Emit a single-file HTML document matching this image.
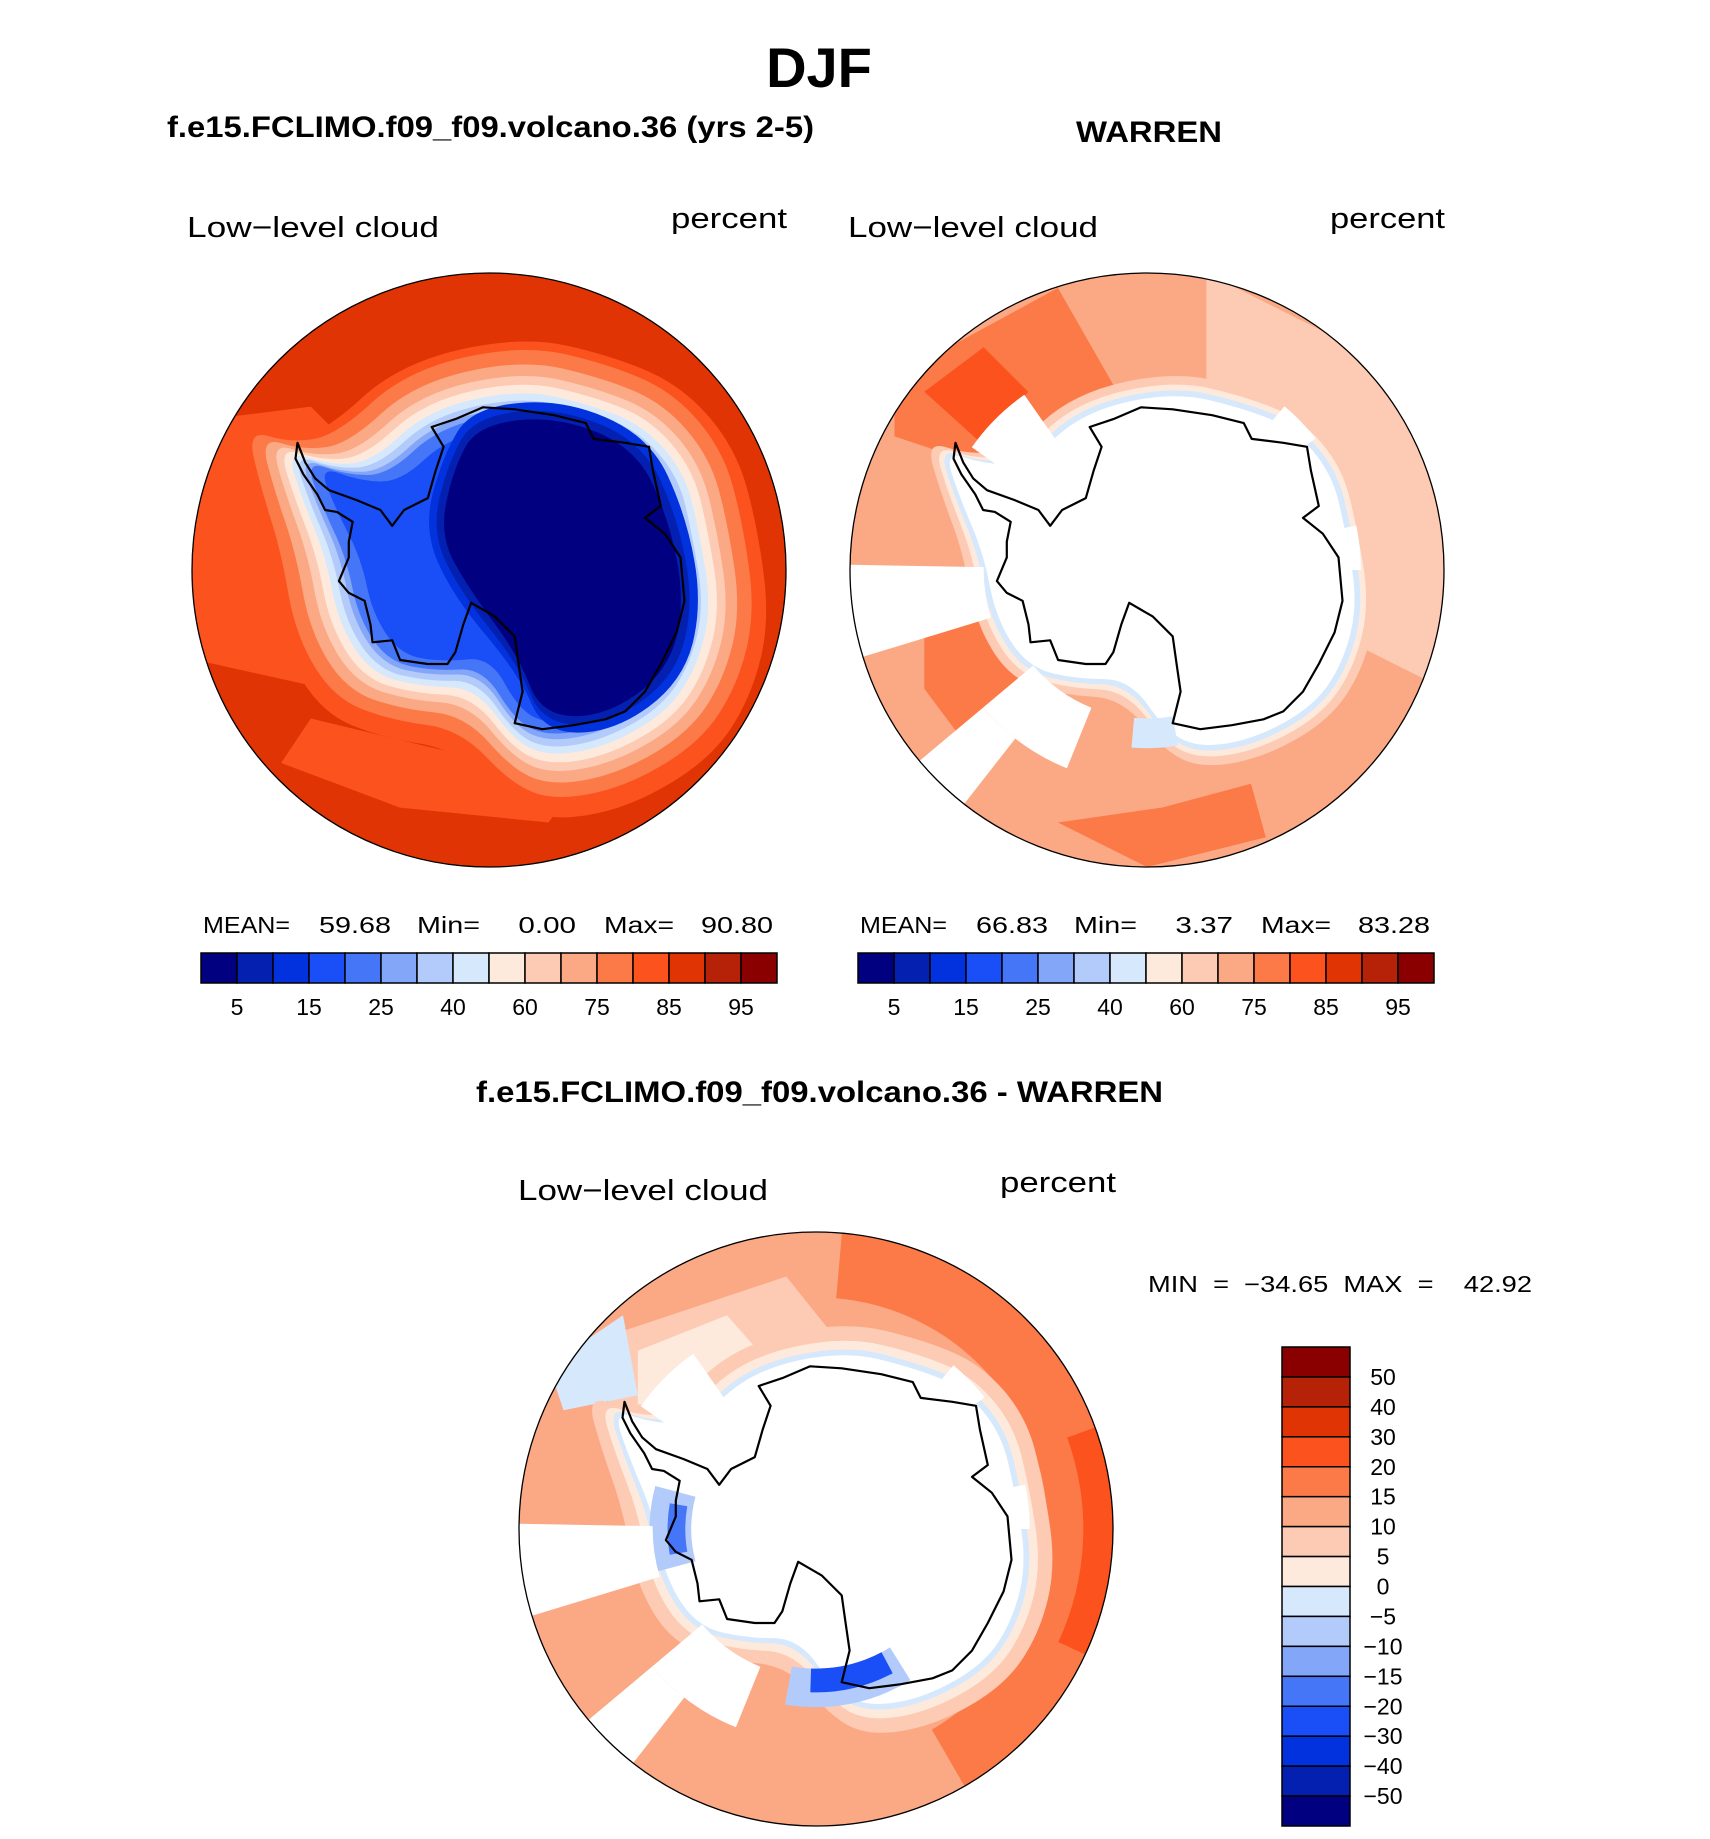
<!DOCTYPE html>
<html><head><meta charset="utf-8">
<style>
html,body{margin:0;padding:0;background:#fff;}
svg{display:block;}
text{font-family:"Liberation Sans",Arial,sans-serif;fill:#000;white-space:pre;}
.b{font-weight:bold;}
</style></head>
<body>
<svg id="fig" width="1710" height="1839" viewBox="0 0 1710 1839" xmlns="http://www.w3.org/2000/svg">
<defs>
<clipPath id="cL"><circle cx="489" cy="570" r="297"/></clipPath>
<clipPath id="cR"><circle cx="1147" cy="570" r="297"/></clipPath>
<clipPath id="cB"><circle cx="816" cy="1529" r="297"/></clipPath>
</defs>
<text x="819" y="87" font-size="56" class="b" text-anchor="middle">DJF</text>
<text x="167" y="137" font-size="30" class="b" textLength="647" lengthAdjust="spacingAndGlyphs">f.e15.FCLIMO.f09_f09.volcano.36 (yrs 2-5)</text>
<text x="1076" y="142" font-size="30" class="b" textLength="146" lengthAdjust="spacingAndGlyphs">WARREN</text>
<text x="187" y="237" font-size="29" textLength="252" lengthAdjust="spacingAndGlyphs">Low−level cloud</text>
<text x="671" y="228" font-size="29" textLength="116" lengthAdjust="spacingAndGlyphs">percent</text>
<text x="848" y="237" font-size="29" textLength="250" lengthAdjust="spacingAndGlyphs">Low−level cloud</text>
<text x="1330" y="228" font-size="29" textLength="115" lengthAdjust="spacingAndGlyphs">percent</text>
<text x="476" y="1102" font-size="30" class="b" textLength="687" lengthAdjust="spacingAndGlyphs">f.e15.FCLIMO.f09_f09.volcano.36 - WARREN</text>
<text x="518" y="1200" font-size="29" textLength="250" lengthAdjust="spacingAndGlyphs">Low−level cloud</text>
<text x="1000" y="1192" font-size="29" textLength="116" lengthAdjust="spacingAndGlyphs">percent</text>
<text x="1148" y="1292" font-size="23" textLength="384" lengthAdjust="spacingAndGlyphs">MIN  =  −34.65  MAX  =    42.92</text>
<g id="mapL" clip-path="url(#cL)"></g>
<g id="mapR" clip-path="url(#cR)"></g>
<g id="mapB" clip-path="url(#cB)"></g>
<circle cx="489" cy="570" r="297" fill="none" stroke="#000" stroke-width="1.3"/>
<circle cx="1147" cy="570" r="297" fill="none" stroke="#000" stroke-width="1.3"/>
<circle cx="816" cy="1529" r="297" fill="none" stroke="#000" stroke-width="1.3"/>
<g id="statsL"></g>
<g id="statsR"></g>
<g id="cbL"></g>
<g id="cbR"></g>
<g id="cbB"></g>
</svg>
<script>
const absColors = ["#000080","#0320b0","#0232dd","#1a4ff7","#4676f8","#83a6f9","#b3cbfa","#d6e8fc","#feeadc","#fdcab3","#fba985","#fb7a48","#fb521e","#e03404","#b52207","#8a0000"];
const absTickLabels = ["5","15","25","40","60","75","85","95"];
const diffTickLabels = ["50","40","30","20","15","10","5","0","−5","−10","−15","−20","−30","−40","−50"];
const leftStats = ["59.68","0.00","90.80"];
const rightStats = ["66.83","3.37","83.28"];

const coast = [[640,430],[700,410],[770,380],[850,385],[950,400],[1030,420],[1050,460],[1130,470],[1190,480],[1200,540],[1220,630],[1180,660],[1230,700],[1270,760],[1280,870],[1260,950],[1220,1030],[1180,1100],[1130,1150],[1080,1170],[1000,1185],[920,1195],[850,1180],[870,1100],[860,1030],[850,960],[800,910],[740,875],[720,930],[700,1000],[680,1030],[630,1030],[560,1020],[540,970],[490,975],[485,930],[470,870],[430,850],[405,820],[430,760],[430,720],[440,670],[400,645],[370,640],[350,600],[315,550],[295,510],[300,470],[320,520],[345,560],[380,590],[450,615],[510,640],[540,680],[570,640],[630,610],[650,540],[670,480]].map(p=>[(p[0]-785)/752,(p[1]-792)/752]);
const blob = [[-0.19,-0.49],[0.09,-0.55],[0.3,-0.5],[0.46,-0.44],[0.58,-0.3],[0.62,-0.12],[0.66,0.1],[0.62,0.28],[0.53,0.42],[0.35,0.52],[0.18,0.55],[0.07,0.5],[-0.04,0.32],[-0.2,0.33],[-0.36,0.3],[-0.46,0.15],[-0.5,-0.05],[-0.58,-0.22],[-0.64,-0.38],[-0.5,-0.33],[-0.36,-0.33]];
const core = [[-0.05,-0.45],[0.2,-0.48],[0.45,-0.38],[0.55,-0.15],[0.6,0.1],[0.55,0.32],[0.35,0.46],[0.15,0.45],[0.08,0.25],[-0.05,0.05],[-0.15,-0.1],[-0.12,-0.3]];
const NS="http://www.w3.org/2000/svg";
function mk(tag,attrs,parent){const e=document.createElementNS(NS,tag);for(const k in attrs)e.setAttribute(k,attrs[k]);parent.appendChild(e);return e;}
function coastPath(cx,cy,R){return "M"+coast.map(p=>[(cx+R*p[0]).toFixed(1),(cy+R*p[1]).toFixed(1)].join(",")).join("L")+"Z";}
function smooth(pts){let s="";const n=pts.length;
  for(let i=0;i<n;i++){const a=pts[i],b=pts[(i+1)%n];const m=[(a[0]+b[0])/2,(a[1]+b[1])/2];
    if(i===0){const z=pts[n-1];s+=`M${((z[0]+a[0])/2).toFixed(1)},${((z[1]+a[1])/2).toFixed(1)}`;}
    s+=`Q${a[0].toFixed(1)},${a[1].toFixed(1)} ${m[0].toFixed(1)},${m[1].toFixed(1)}`;}
  return s+"Z";}
function band(cx,cy,R,d,ox,oy,shape){
  const c=[0.08,0.0];const src=shape||blob;
  const pts=src.map(p=>{const vx=p[0]-c[0],vy=p[1]-c[1],L=Math.hypot(vx,vy);return [cx+R*(p[0]+vx/L*d+(ox||0)),cy+R*(p[1]+vy/L*d+(oy||0))];});
  return smooth(pts);
}
function sector(cx,cy,R,r0,r1,a0,a1){
  const P=(r,a)=>[(cx+R*r*Math.cos(a*Math.PI/180)).toFixed(1),(cy+R*r*Math.sin(a*Math.PI/180)).toFixed(1)];
  const A=P(r1,a0),B=P(r1,a1),C=P(r0,a1),D=P(r0,a0);
  return `M${A}A${R*r1},${R*r1} 0 0 1 ${B}L${C}A${R*r0},${R*r0} 0 0 0 ${D}Z`;
}
function layer(g,d,fill,name){const p=mk("path",{d:d,fill:fill},g);return p;}
function poly(cx,cy,R,pts){return "M"+pts.map(p=>[(cx+R*p[0]).toFixed(1),(cy+R*p[1]).toFixed(1)].join(",")).join("L")+"Z";}
function coastline(g,cx,cy,R){const p=mk("path",{d:coastPath(cx,cy,R),fill:"none",stroke:"#000","stroke-width":2.2,"stroke-linejoin":"round"},g);}
const C=absColors;
const wedges=[[163,181,0.55,1.0],[128,140,0.72,1.0],[112,140,0.5,0.72],[-12,0,0.55,0.72],[-50,-38,0.5,0.72],[20,35,0.5,0.68],[-145,-125,0.5,0.72]];
// Left map
(function(){const g=document.getElementById("mapL"),cx=489,cy=570,R=297;
 layer(g,`M${cx-R},${cy-R}h${2*R}v${2*R}h${-2*R}Z`,C[13],'field-85-90');
 layer(g,poly(cx,cy,R,[[-1,-0.5],[-0.6,-0.55],[-0.4,-0.35],[-0.3,0.3],[-0.55,0.4],[-1,0.3]]),C[12],'field-80-85-west');
 layer(g,poly(cx,cy,R,[[-0.6,0.5],[-0.1,0.62],[0.3,0.72],[0.2,0.85],[-0.3,0.8],[-0.7,0.65]]),C[12],'field-80-85-south');
 layer(g,band(cx,cy,R,0.27,0.02,0.03),C[12],'field-80-85-ring');
 const ds=[0.22,0.17,0.13,0.1,0.07,0.045,0.02];
 const cs=[C[11],C[10],C[9],C[8],C[7],C[6],C[5]];
 ds.forEach((d,i)=>layer(g,band(cx,cy,R,d,0.02,0.01),cs[i],'field-band-'+i));
 layer(g,band(cx,cy,R,0.0,0.02,0.01),C[4],'field-20-25');
 layer(g,band(cx,cy,R,-0.04,0.03,0.01),C[3],'field-15-20');
 layer(g,band(cx,cy,R,0.1,0.02,0,core),C[2],'field-10-15');
 layer(g,band(cx,cy,R,0.07,0.02,0,core),C[1],'field-5-10');
 layer(g,band(cx,cy,R,0.04,0.02,0,core),C[0],'field-0-5');
 coastline(g,cx,cy,R);})();
// Right map
(function(){const g=document.getElementById("mapR"),cx=1147,cy=570,R=297;
 layer(g,`M${cx-R},${cy-R}h${2*R}v${2*R}h${-2*R}Z`,C[10],'field-70-75');
 layer(g,poly(cx,cy,R,[[0.2,-1],[1,-0.6],[1,0.4],[0.7,0.25],[0.55,-0.3],[0.2,-0.6]]),C[9],'field-65-70-east');
 layer(g,poly(cx,cy,R,[[-0.85,-0.65],[-0.3,-0.95],[-0.1,-0.6],[-0.3,-0.45],[-0.55,-0.35],[-0.85,-0.45]]),C[11],'field-75-80');
 layer(g,poly(cx,cy,R,[[-0.75,-0.6],[-0.55,-0.75],[-0.4,-0.6],[-0.55,-0.42]]),C[12],'field-80-85');
 layer(g,poly(cx,cy,R,[[-0.75,0.05],[-0.35,0.1],[-0.3,0.4],[-0.6,0.6],[-0.75,0.4]]),C[11],'field-75-80-w');
 layer(g,poly(cx,cy,R,[[-0.3,0.85],[0.05,0.8],[0.35,0.72],[0.4,0.9],[0,1]]),C[11],'field-75-80-s');
 layer(g,band(cx,cy,R,0.12),C[9],'field-60-65');
 layer(g,band(cx,cy,R,0.09),C[8],'field-40-60');
 layer(g,band(cx,cy,R,0.07),C[7],'field-blue');
 layer(g,band(cx,cy,R,0.05),"#fff",'no-data-ice');
 wedges.forEach((s,i)=>layer(g,sector(cx,cy,R,s[2],s[3],s[0],s[1]),"#fff",'no-data-wedge-'+i));
 layer(g,sector(cx,cy,R,0.5,0.6,80,95),C[7],'field-blue-ross');
 coastline(g,cx,cy,R);})();
// Diff map
(function(){const g=document.getElementById("mapB"),cx=816,cy=1529,R=297;
 layer(g,`M${cx-R},${cy-R}h${2*R}v${2*R}h${-2*R}Z`,C[10],'field-10-15');
 layer(g,sector(cx,cy,R,0.78,1.0,-85,60),C[11],'field-15-20-ring');
 layer(g,sector(cx,cy,R,0.9,1.0,-20,25),C[12],'field-20-30');
 layer(g,poly(cx,cy,R,[[-0.7,-0.65],[-0.1,-0.85],[0.1,-0.6],[-0.3,-0.35],[-0.7,-0.35]]),C[9],'field-5-10-n');
 layer(g,poly(cx,cy,R,[[-0.6,-0.6],[-0.3,-0.72],[-0.15,-0.55],[-0.35,-0.4],[-0.6,-0.42]]),C[8],'field-0-5');
 layer(g,poly(cx,cy,R,[[-0.9,-0.55],[-0.65,-0.72],[-0.6,-0.45],[-0.85,-0.4]]),C[7],'field-m5-0');
 layer(g,poly(cx,cy,R,[[0.25,-0.65],[0.5,-0.55],[0.55,-0.45],[0.3,-0.55]]),C[12],'field-20-30-n');
 layer(g,poly(cx,cy,R,[[-0.65,-0.38],[-0.45,-0.32],[-0.47,-0.22],[-0.65,-0.28]]),C[12],'field-20-30-pen');
 layer(g,band(cx,cy,R,0.15),C[9],'field-5-10');
 layer(g,band(cx,cy,R,0.1),C[8],'field-0-5-ring');
 layer(g,band(cx,cy,R,0.07),C[7],'field-m5');
 layer(g,band(cx,cy,R,0.05),"#fff",'no-data-ice');
 layer(g,sector(cx,cy,R,0.47,0.6,58,100),C[6],'field-m10');
 layer(g,sector(cx,cy,R,0.47,0.55,62,92),C[3],'field-m20');
 layer(g,sector(cx,cy,R,0.42,0.56,165,195),C[6],'field-m10-w');
 layer(g,sector(cx,cy,R,0.44,0.5,170,190),C[4],'field-m20-w');
 wedges.forEach((s,i)=>layer(g,sector(cx,cy,R,s[2],s[3],s[0],s[1]),"#fff",'no-data-wedge-'+i));
 coastline(g,cx,cy,R);})();
function hbar(id,x0){const g=document.getElementById(id),y0=953,h=30,w=576/absColors.length;
 absColors.forEach((c,i)=>{const r=mk("rect",{x:x0+i*w,y:y0,width:w,height:h,fill:c,stroke:"#000","stroke-width":1.5},g);});
 absTickLabels.forEach((t,i)=>{const e=mk("text",{x:x0+(2*i+1)*w,y:1015,"font-size":23,"text-anchor":"middle"},g);e.textContent=t;});}
hbar("cbL",201);hbar("cbR",858);
function stats(id,x0,vals){const g=document.getElementById(id);
 const items=[["MEAN=",0,87],["Min=",214,63],["Max=",401,70]];
 items.forEach(it=>{const e=mk("text",{x:x0+it[1],y:933,"font-size":23,textLength:it[2],lengthAdjust:"spacingAndGlyphs"},g);e.textContent=it[0];});
 const ends=[188,373,570];
 vals.forEach((v,i)=>{const w=v.length*14.4;const e=mk("text",{x:x0+ends[i]-w,y:933,"font-size":23,textLength:w,lengthAdjust:"spacingAndGlyphs"},g);e.textContent=v;});}
stats("statsL",203,leftStats);stats("statsR",860,rightStats);
(function(){const g=document.getElementById("cbB"),x0=1282,y0=1347,w=68,h=479/absColors.length;
 absColors.slice().reverse().forEach((c,i)=>{const r=mk("rect",{x:x0,y:y0+i*h,width:w,height:h,fill:c,stroke:"#000","stroke-width":1.5},g);});
 diffTickLabels.forEach((t,i)=>{const e=mk("text",{x:1383,y:y0+(i+1)*h+8,"font-size":23,"text-anchor":"middle"},g);e.textContent=t;});})();
</script>
</body></html>
